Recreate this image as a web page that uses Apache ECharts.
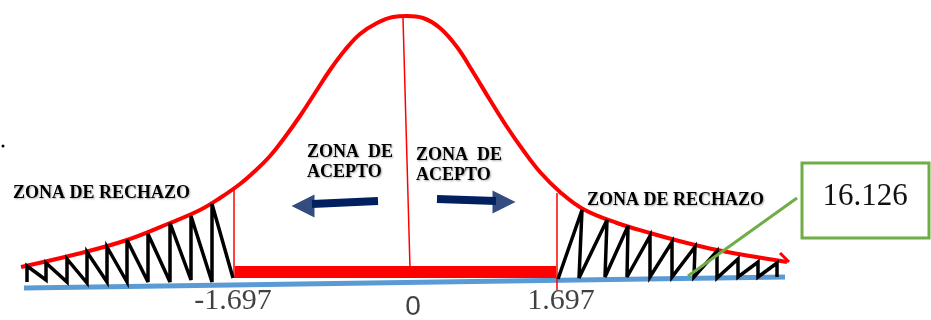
<!DOCTYPE html>
<html>
<head>
<meta charset="utf-8">
<title>Zona de rechazo</title>
<script src="https://cdn.jsdelivr.net/npm/echarts@6/dist/echarts.min.js"></script>
<style>
  html, body { margin: 0; background: #fff; }
  #chart { width: 931px; height: 320px; }
</style>
</head>
<body>
<div id="chart"></div>
<script>
// puntos (x hacia la derecha, y hacia abajo)
const curve = [
  [21, 267], [77, 254], [127, 240], [170, 223], [200, 210], [220, 198], [240, 184],
  [255, 171], [270, 156], [285, 137], [300, 116], [315, 93], [330, 70], [345, 50],
  [360, 34], [377, 23], [393, 17], [407, 16], [423, 18], [440, 28], [457, 47], [473, 72],
  [490, 100], [507, 127], [523, 150], [540, 172], [560, 192], [583, 209], [617, 223],
  [650, 233], [683, 242], [717, 250], [750, 256], [787, 262]
]
const curveHook = [[780, 253], [789, 262]]

const leftZig = [
  [27, 282], [27, 266], [46, 280], [46, 263], [67, 282], [67, 259], [87, 283], [87, 252],
  [107, 282], [107, 247], [127, 282], [127, 240], [148, 282], [148, 234], [170, 282],
  [170, 223], [191, 280], [191, 216], [212, 282], [212, 204], [233, 278]
]
const rightZig = [
  [558, 279], [582, 210], [579, 278], [607, 220], [605, 277], [628, 226], [627, 277],
  [650, 236], [650, 277], [672, 242], [672, 277], [695, 247], [694, 277], [717, 251],
  [717, 278], [738, 259], [738, 277], [758, 262], [758, 277], [777, 263], [777, 277]
]

const baseLine = [[24, 288], [785, 277]]
const acceptBar = [[235, 272], [556, 272]]
const critLeft = [[234, 188], [234, 278]]
const critRight = [[557, 193], [557, 290]]
const centerLine = [[403, 18], [410, 268]]
const leader = [[688, 276], [797, 198]]

const arrowLeftShaft = [[378, 201], [312, 204]]
const arrowLeftHead = [[303, 206]]
const arrowRightShaft = [[437, 199], [496, 201]]
const arrowRightHead = [[504, 202]]

const tickLabels = ['-1.697', '0', '1.697']
const tickPos = [[233, 301], [413, 307], [561, 301]]
const statValue = '16.126'

const chart = echarts.init(document.getElementById('chart'))

function seg(data, color, width, z, extra) {
  return Object.assign({
    type: 'line',
    data: data,
    symbol: 'none',
    silent: true,
    z: z,
    lineStyle: { color: color, width: width, cap: 'butt', join: 'miter', miterLimit: 4 }
  }, extra || {})
}

const serif = '"Liberation Serif", "Times New Roman", serif'
const bold18 = 'bold 18px ' + serif
const shadow = { textShadowColor: 'rgba(0,0,0,0.35)', textShadowBlur: 2, textShadowOffsetX: 1, textShadowOffsetY: 1 }

function txt(text, x, y, font) {
  return {
    type: 'text', x: x, y: y, z: 20,
    style: Object.assign({ text: text, font: font, fill: '#000', textVerticalAlign: 'middle', verticalAlign: 'middle' }, shadow)
  }
}

const option = {
  animation: false,
  grid: { left: 0, right: 0, top: 0, bottom: 0 },
  xAxis: { type: 'value', min: 0, max: 931, show: false },
  yAxis: { type: 'value', min: 0, max: 320, inverse: true, show: false },
  series: [
    seg(baseLine, '#5b9bd5', 5, 1),
    seg(acceptBar, '#ff0000', 12, 2),
    seg(critLeft, '#ff0000', 1.5, 3),
    seg(critRight, '#ff0000', 1.5, 3),
    seg(centerLine, '#ff0000', 1.5, 3),
    seg(curve, '#ff0000', 4, 4, { smooth: 0.4 }),
    seg(curveHook, '#ff0000', 3, 4),
    seg(leftZig, '#000000', 3.5, 5),
    seg(rightZig, '#000000', 3.5, 5),
    seg(leader, '#70ad47', 3, 6),
    seg(arrowLeftShaft, '#002060', 8, 6),
    seg(arrowRightShaft, '#002060', 8, 6),
    {
      type: 'scatter', silent: true, z: 6,
      data: arrowLeftHead, symbol: 'triangle', symbolSize: [23, 23], symbolRotate: 90,
      itemStyle: { color: '#002060' }
    },
    {
      type: 'scatter', silent: true, z: 6,
      data: arrowRightHead, symbol: 'triangle', symbolSize: [23, 23], symbolRotate: -90,
      itemStyle: { color: '#002060' }
    },
    {
      type: 'scatter', silent: true, z: 7, symbolSize: 0,
      data: tickPos.map((p, i) => ({
        value: p,
        name: tickLabels[i],
        label: {
          show: true, position: 'inside', formatter: '{b}', color: '#111',
          fontSize: i === 1 ? 28 : 30,
          fontFamily: i === 1 ? '"Liberation Sans", Arial, sans-serif' : serif
        }
      }))
    }
  ],
  graphic: [
    { type: 'circle', shape: { cx: 3, cy: 146, r: 1.5 }, style: { fill: '#000' } },
    txt('ZONA DE RECHAZO', 13, 193, bold18),
    txt('ZONA DE RECHAZO', 587, 200, bold18),
    txt('ZONA  DE', 307, 152, bold18),
    txt('ACEPTO', 307, 172, bold18),
    txt('ZONA  DE', 416, 155, bold18),
    txt('ACEPTO', 416, 175, bold18),
    {
      type: 'rect', z: 10,
      shape: { x: 802, y: 163, width: 127, height: 75 },
      style: { fill: '#fff', stroke: '#70ad47', lineWidth: 3 }
    },
    {
      type: 'text', x: 865, y: 197, z: 11,
      style: { text: statValue, font: '31px ' + serif, fill: '#111', textAlign: 'center', align: 'center', textVerticalAlign: 'middle', verticalAlign: 'middle' }
    }
  ]
}

chart.setOption(option)
window.addEventListener('resize', () => chart.resize())
</script>
</body>
</html>
